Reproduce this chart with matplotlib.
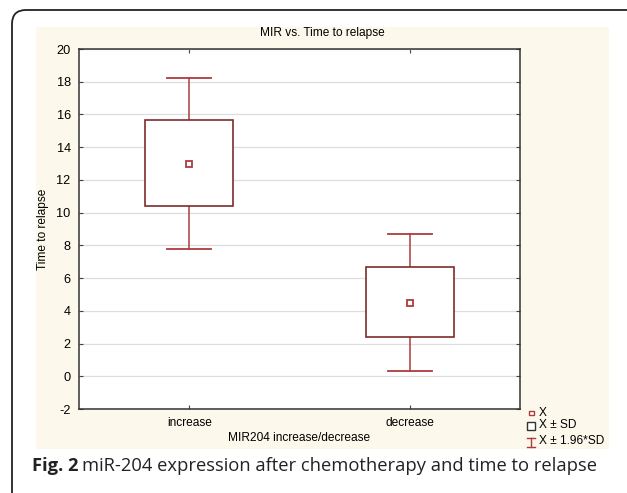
import matplotlib
matplotlib.use("Agg")
import matplotlib.pyplot as plt
from matplotlib.patches import Rectangle, FancyBboxPatch

plt.rcParams["axes.unicode_minus"] = False

# ---- data ----
categories = ["increase", "decrease"]
means = [13.0, 4.5]
sd_low = [10.38, 2.38]
sd_high = [15.65, 6.65]
ci_low = [7.8, 0.33]
ci_high = [18.25, 8.7]
yticks = list(range(-2, 21, 2))

W, H = 627, 493
fig = plt.figure(figsize=(W / 100, H / 100), dpi=100)
fig.patch.set_facecolor("white")

# background axes in pixel coordinates
bg = fig.add_axes([0, 0, 1, 1], zorder=0)
bg.set_xlim(0, W)
bg.set_ylim(H, 0)
bg.axis("off")
frame = FancyBboxPatch((12, 10), 640, 500, boxstyle="round,pad=0,rounding_size=14",
                       fc="white", ec="#222222", lw=1.3)
bg.add_patch(frame)
bg.add_patch(Rectangle((36, 27), 573, 422, fc="#fcf8ec", ec="none"))

font = "Liberation Sans"
fs = 8.6
box_c = "#7e2b2e"
wh_c = "#ad3b3e"

# title / caption
bg.text(322, 33, "MIR vs. Time to relapse", ha="center", va="center",
        fontsize=fs, family=font)
t1 = bg.text(32, 466, "Fig. 2", ha="left", va="center", fontsize=13.2,
             family="Open Sans", fontweight="bold", color="#222222")
fig.canvas.draw()
bb = t1.get_window_extent()
x_end = bb.x1
bg.text(x_end + 4, 466, "miR-204 expression after chemotherapy and time to relapse",
        ha="left", va="center", fontsize=13.2, family="Open Sans", color="#222222")

# legend
bg.add_patch(Rectangle((528.5, 410.5), 5, 4, fc="white", ec=wh_c, lw=1.0))
bg.text(539, 412.5, "X", ha="left", va="center", fontsize=fs, family=font)
bg.add_patch(Rectangle((527, 421.5), 7.5, 8, fc="white", ec="#333333", lw=1.0))
bg.text(539, 425.5, "X ± SD", ha="left", va="center", fontsize=fs, family=font)
bg.plot([527, 534.5], [437.5, 437.5], color=wh_c, lw=1.0)
bg.plot([527, 534.5], [446.5, 446.5], color=wh_c, lw=1.0)
bg.plot([530.75, 530.75], [437.5, 446.5], color=wh_c, lw=1.0)
bg.text(539, 441, "X ± 1.96*SD", ha="left", va="center", fontsize=fs, family=font)

# main axes
ax = fig.add_axes([79 / W, 1 - 409 / H, (520 - 79) / W, (409 - 49) / H], zorder=2)
ax.set_facecolor("white")
x = list(range(len(categories)))
ax.set_xlim(-0.5, len(categories) - 0.5)
ax.set_ylim(-2, 20)
ax.set_yticks(yticks)
ax.set_xticks(x)
ax.set_xticklabels(categories, fontsize=fs, family=font)
for lab in ax.get_yticklabels():
    lab.set_fontsize(fs + 0.6)
    lab.set_family(font)
ax.yaxis.grid(True, color="#dedede", lw=0.9)
ax.set_axisbelow(True)
ax.tick_params(axis="both", direction="in", length=3, width=0.8, color="#444444",
               top=True, right=True, pad=6)
for s in ax.spines.values():
    s.set_color("#333333")
    s.set_linewidth(1.1)

bw = 0.4
cw = 0.2
for xi, m, sl, sh, cl, ch in zip(x, means, sd_low, sd_high, ci_low, ci_high):
    ax.plot([xi, xi], [cl, sl], color=wh_c, lw=1.1, zorder=3)
    ax.plot([xi, xi], [sh, ch], color=wh_c, lw=1.1, zorder=3)
    ax.plot([xi - cw / 2, xi + cw / 2], [cl, cl], color=wh_c, lw=1.3, zorder=3)
    ax.plot([xi - cw / 2, xi + cw / 2], [ch, ch], color=wh_c, lw=1.3, zorder=3)
    ax.add_patch(Rectangle((xi - bw / 2, sl), bw, sh - sl, fc="white", ec=box_c,
                           lw=1.2, zorder=4))
    ax.plot([xi], [m], marker="s", ms=4.5, mfc="white", mec=wh_c, mew=1.3, zorder=5)

ax.set_xlabel("MIR204 increase/decrease", fontsize=fs, family=font, labelpad=2)
ax.set_ylabel("Time to relapse", fontsize=fs, family=font, labelpad=5)

fig.savefig("out.png", dpi=100)
